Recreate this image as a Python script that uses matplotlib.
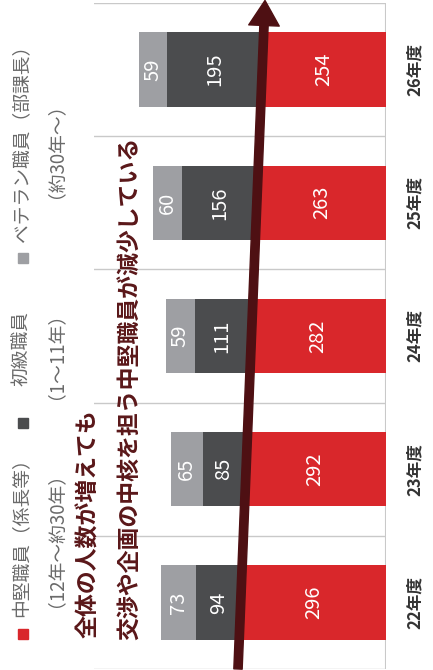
import matplotlib
matplotlib.use("Agg")
import matplotlib.pyplot as plt
import numpy as np
from matplotlib.patches import FancyArrowPatch, Rectangle, ArrowStyle

plt.rcParams['font.family'] = ['Noto Sans CJK JP', 'DejaVu Sans']

years = ['22年度', '23年度', '24年度', '25年度', '26年度']
mid = [296, 292, 282, 263, 254]       # 中堅職員
junior = [94, 85, 111, 156, 195]      # 初級職員
veteran = [73, 65, 59, 60, 59]        # ベテラン職員
series_names = ['中堅職員（係長等）', '初級職員', 'ベテラン職員（部課長）']
series_sub = ['（12年～約30年）', '（1～11年）', '（約30年～）']
colors = ['#d9272b', '#4b4c4e', '#9e9fa3']
note1 = '全体の人数が増えても'
note2 = '交渉や企画の中核を担う中堅職員が減少している'

W, H = 433, 670
fig = plt.figure(figsize=(W / 100, H / 100), dpi=100)
ax = fig.add_axes([94 / W, 1 - 669 / H, 292 / W, 666 / H])
ax.set_xlim(600, 0)
ax.set_ylim(-0.5, 4.5)
for s in ax.spines.values():
    s.set_visible(False)
ax.set_xticks([])
ax.set_yticks([])

for yy in np.arange(-0.5, 5.0, 1.0):
    ax.axhline(yy, color='#c9c9c9', lw=1.0, zorder=1)
ax.axvline(0, color='#c9c9c9', lw=1.5, zorder=1)

pos = np.arange(len(years))
left = np.zeros(len(years))
for vals, c in zip([mid, junior, veteran], colors):
    vals = np.array(vals, dtype=float)
    ax.barh(pos, vals, left=left, height=0.56, color=c, zorder=2)
    for p, l, v in zip(pos, left, vals):
        ax.text(l + v / 2, p, f'{int(v)}', rotation=90, ha='center', va='center',
                color='white', fontsize=14.5, zorder=3)
    left += vals

for p, lab in zip(pos, years):
    ax.text(-60, p, lab, rotation=90, ha='center', va='center',
            color='#333333', fontsize=12, fontweight='bold', clip_on=False)

# legend (rotated)
leg_y1 = [533, 348, 139]
leg_y2 = [530, 346, 141]
sq_y = [634, 423, 258]
for name, sub, c, y1, y2, sy in zip(series_names, series_sub, colors, leg_y1, leg_y2, sq_y):
    fig.text(22 / W, 1 - y1 / H, name, rotation=90, ha='center', va='center',
             color='#6a6a6a', fontsize=13.5)
    fig.text(46 / W, 1 - y2 / H, sub, rotation=90, ha='center', va='center',
             color='#6a6a6a', fontsize=13.5)
    fig.add_artist(Rectangle(((23 - 5) / W, 1 - (sy + 5) / H), 10 / W, 10 / H,
                             transform=fig.transFigure, color=c))

# annotations
fig.text(89 / W, 1 - 638 / H, note1, rotation=90, ha='center', va='bottom',
         color='#5a1719', fontsize=16.5, fontweight='bold')
fig.text(131 / W, 1 - 640 / H, note2, rotation=90, ha='center', va='bottom',
         color='#5a1719', fontsize=16.5, fontweight='bold')

arrow = FancyArrowPatch((238 / W, 1 - 669 / H), (265 / W, 1 - 0.5 / H),
                        transform=fig.transFigure,
                        arrowstyle=ArrowStyle.Simple(head_length=18, head_width=22, tail_width=6),
                        mutation_scale=1, shrinkA=0, shrinkB=0,
                        color='#4e1013', zorder=5)
fig.add_artist(arrow)

fig.savefig('out.png', dpi=100)
